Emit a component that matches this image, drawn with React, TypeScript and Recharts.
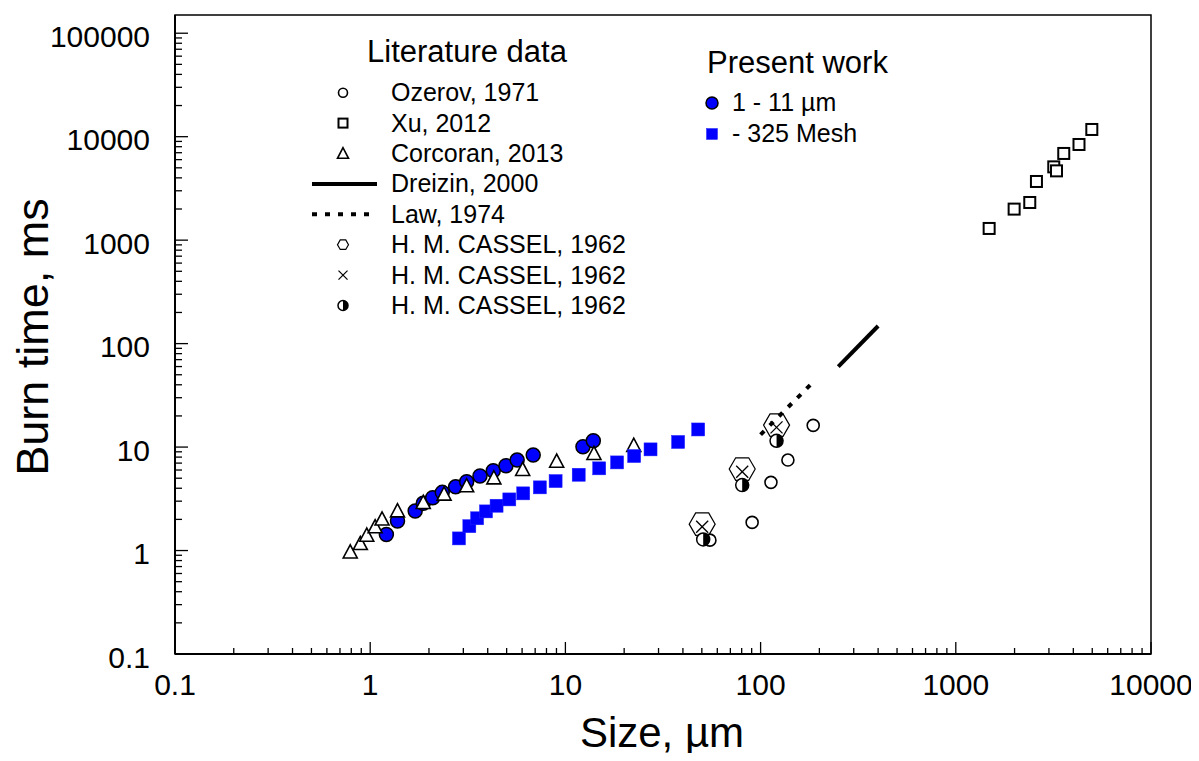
import React from "react";
import {
  ScatterChart,
  Scatter,
  XAxis,
  YAxis,
  ReferenceArea,
} from "recharts";

// size (um), burn time (ms)
const ozerov = [[55, 1.26], [90.5, 1.87], [113, 4.56], [138, 7.49], [186, 16.2]];
const xu = [[1482, 1297], [1990, 1995], [2393, 2312], [2589, 3690], [3176, 5108], [3280, 4674], [3573, 6885], [4277, 8406], [4975, 11740]];
const corcoran = [[0.79, 0.97], [0.89, 1.17], [0.96, 1.41], [1.06, 1.7], [1.15, 2.02], [1.38, 2.42], [1.87, 2.92], [2.39, 3.52], [3.12, 4.23], [4.3, 5.05], [6.04, 6.09], [9.02, 7.32], [14.0, 8.69], [22.4, 10.4]];
const dreizin = [[250, 60], [400, 148]];
const law = [[100, 13.2], [180, 40]];
const casselHex = [[50.2, 1.8], [80.5, 6.13], [120.7, 16.3]];
const casselCross = [[50.2, 1.7], [80.5, 5.77], [120.7, 15.5]];
const casselHalf = [[50.8, 1.28], [80.5, 4.29], [120.7, 11.5]];
const fine = [[1.21, 1.43], [1.38, 1.93], [1.7, 2.41], [1.87, 2.86], [2.09, 3.24], [2.34, 3.65], [2.74, 4.13], [3.12, 4.62], [3.65, 5.25], [4.27, 5.9], [4.96, 6.6], [5.66, 7.49], [6.84, 8.37], [12.3, 10.07], [13.9, 11.5]];
const mesh = [[2.85, 1.31], [3.22, 1.72], [3.53, 2.05], [3.92, 2.39], [4.44, 2.71], [5.16, 3.12], [6.08, 3.57], [7.4, 4.08], [8.91, 4.69], [11.7, 5.4], [14.9, 6.23], [18.4, 7.11], [22.5, 8.19], [27.3, 9.5], [37.8, 11.2], [47.9, 14.8]];

const xDecades = [0.1, 1, 10, 100, 1000, 10000];
const yDecades = [0.1, 1, 10, 100, 1000, 10000, 100000];

const literature = ["Ozerov, 1971", "Xu, 2012", "Corcoran, 2013", "Dreizin, 2000", "Law, 1974", "H. M. CASSEL, 1962", "H. M. CASSEL, 1962", "H. M. CASSEL, 1962"];
const present = ["1 - 11 µm", "- 325 Mesh"];

const FONT = "'Liberation Sans', Arial, sans-serif";
const BLUE = "#0000ff";

const toPts = (arr: number[][]) => arr.map(([x, y]) => ({ x, y }));

// major decade ticks plus 2..9 minor ticks
const withMinor = (decades: number[]) => {
  const out: number[] = [];
  decades.forEach((d, i) => {
    out.push(d);
    if (i < decades.length - 1) for (let k = 2; k <= 9; k++) out.push(+(d * k).toPrecision(3));
  });
  return out;
};
const xTicks = withMinor(xDecades);
const yTicks = withMinor(yDecades);
const isMajor = (v: number) => Math.abs(Math.log10(v) - Math.round(Math.log10(v))) < 1e-6;

const XTick = (props: any) => {
  const { x, y, payload } = props;
  const major = isMajor(payload.value);
  return (
    <g>
      <line x1={x} x2={x} y1={y} y2={y - (major ? 12 : 6)} stroke="#000" strokeWidth={1.3} />
      {major && (
        <text x={x} y={y + 41} textAnchor="middle" fontSize={30} fontFamily={FONT} fill="#000">
          {String(payload.value)}
        </text>
      )}
    </g>
  );
};

const YTick = (props: any) => {
  const { x, y, payload } = props;
  const major = isMajor(payload.value);
  return (
    <g>
      <line x1={x} x2={x + (major ? 13 : 7)} y1={y} y2={y} stroke="#000" strokeWidth={1.3} />
      {major && (
        <text x={x - 25} y={y + 13.5} textAnchor="end" fontSize={30} fontFamily={FONT} fill="#000">
          {String(payload.value)}
        </text>
      )}
    </g>
  );
};

// marker drawing helpers
const openCircle = (cx: number, cy: number, r: number) => (
  <circle cx={cx} cy={cy} r={r} fill="#fff" stroke="#000" strokeWidth={1.6} />
);
const openSquare = (cx: number, cy: number, s: number) => (
  <rect x={cx - s / 2} y={cy - s / 2} width={s} height={s} fill="#fff" stroke="#000" strokeWidth={2} />
);
const openTriangle = (cx: number, cy: number, s: number) => {
  const h = s * 0.87;
  return (
    <polygon
      points={`${cx},${cy - h / 2 - 1} ${cx - s / 2},${cy + h / 2} ${cx + s / 2},${cy + h / 2}`}
      fill="#fff"
      stroke="#000"
      strokeWidth={1.6}
    />
  );
};
const hexagon = (cx: number, cy: number, r: number) => {
  const pts = [0, 60, 120, 180, 240, 300]
    .map((a) => `${cx + r * Math.cos((a * Math.PI) / 180)},${cy + r * Math.sin((a * Math.PI) / 180)}`)
    .join(" ");
  return <polygon points={pts} fill="none" stroke="#000" strokeWidth={1.2} />;
};
const cross = (cx: number, cy: number, s: number) => (
  <g stroke="#000" strokeWidth={1.3}>
    <line x1={cx - s / 2} y1={cy - s / 2} x2={cx + s / 2} y2={cy + s / 2} />
    <line x1={cx - s / 2} y1={cy + s / 2} x2={cx + s / 2} y2={cy - s / 2} />
  </g>
);
const halfCircle = (cx: number, cy: number, r: number) => (
  <g>
    <circle cx={cx} cy={cy} r={r} fill="#fff" stroke="#000" strokeWidth={1.5} />
    <path d={`M${cx},${cy - r} A${r},${r} 0 0 1 ${cx},${cy + r} Z`} fill="#000" />
  </g>
);
const blueCircle = (cx: number, cy: number, r: number) => (
  <circle cx={cx} cy={cy} r={r} fill={BLUE} stroke="#000" strokeWidth={1.5} />
);
const blueSquare = (cx: number, cy: number, s: number) => (
  <rect x={cx - s / 2} y={cy - s / 2} width={s} height={s} fill={BLUE} stroke="#2020ff" strokeWidth={0.5} />
);

const shapeOf = (fn: (cx: number, cy: number, s: number) => React.ReactElement, s: number) =>
  (p: any) => fn(p.cx, p.cy, s);

const W = 1191;
const H = 745;

const App = () => {
  const legendY0 = 84.7;
  const step = 30.4;
  const symX = 335;
  const textX = 383;
  const litSymbols = [
    (y: number) => openCircle(symX, y, 4.5),
    (y: number) => openSquare(symX, y, 9),
    (y: number) => openTriangle(symX, y, 11),
    (y: number) => <line x1={304} x2={369} y1={y} y2={y} stroke="#000" strokeWidth={4} />,
    (y: number) => <line x1={304} x2={369} y1={y} y2={y} stroke="#000" strokeWidth={4} strokeDasharray="5 8" />,
    (y: number) => hexagon(symX, y, 5.5),
    (y: number) => cross(symX, y, 9),
    (y: number) => halfCircle(symX, y, 5),
  ];

  return (
    <div style={{ position: "relative", width: W, height: H }}>
      <ScatterChart width={W} height={H} margin={{ top: 7, right: 48, bottom: 0, left: 0 }}>
        <XAxis
          dataKey="x"
          type="number"
          scale="log"
          domain={[0.1, 10000]}
          ticks={xTicks}
          interval={0}
          height={99}
          tickSize={0}
          tickMargin={0}
          tickLine={false}
          tick={<XTick />}
          axisLine={{ stroke: "#000", strokeWidth: 2 }}
          allowDataOverflow
        />
        <YAxis
          dataKey="y"
          type="number"
          scale="log"
          domain={[0.1, 150000]}
          ticks={yTicks}
          interval={0}
          width={167}
          tickSize={0}
          tickMargin={0}
          tickLine={false}
          tick={<YTick />}
          axisLine={{ stroke: "#000", strokeWidth: 2 }}
          allowDataOverflow
        />
        <ReferenceArea x1={0.1} x2={10000} y1={0.1} y2={150000} fill="none" stroke="#000" strokeWidth={1.5} />
        <Scatter data={toPts(dreizin)} line={{ stroke: "#000", strokeWidth: 4 }} shape={() => <g />} isAnimationActive={false} />
        <Scatter data={toPts(law)} line={{ stroke: "#000", strokeWidth: 4, strokeDasharray: "5 8" }} shape={() => <g />} isAnimationActive={false} />
        <Scatter data={toPts(ozerov)} shape={shapeOf(openCircle, 6)} isAnimationActive={false} />
        <Scatter data={toPts(xu)} shape={shapeOf(openSquare, 11)} isAnimationActive={false} />
        <Scatter data={toPts(fine)} shape={shapeOf(blueCircle, 7)} isAnimationActive={false} />
        <Scatter data={toPts(corcoran)} shape={shapeOf(openTriangle, 14)} isAnimationActive={false} />
        <Scatter data={toPts(mesh)} shape={shapeOf(blueSquare, 13)} isAnimationActive={false} />
        <Scatter data={toPts(casselHex)} shape={shapeOf(hexagon, 13)} isAnimationActive={false} />
        <Scatter data={toPts(casselCross)} shape={shapeOf(cross, 12)} isAnimationActive={false} />
        <Scatter data={toPts(casselHalf)} shape={shapeOf(halfCircle, 6.5)} isAnimationActive={false} />
      </ScatterChart>

      <svg
        width={W}
        height={H}
        style={{ position: "absolute", left: 0, top: 0, pointerEvents: "none", overflow: "visible" }}
        fontFamily={FONT}
      >
        <text x={654} y={739} textAnchor="middle" fontSize={42} fill="#000">
          Size, µm
        </text>
        <text x={40} y={329} textAnchor="middle" fontSize={45} fill="#000" transform="rotate(-90 40 329)">
          Burn time, ms
        </text>

        <text x={359} y={54} fontSize={31} fill="#000">Literature data</text>
        {literature.map((name, i) => {
          const y = legendY0 + i * step;
          return (
            <g key={i}>
              {litSymbols[i](y)}
              <text x={textX} y={y + 8.5} fontSize={25} fill="#000">{name}</text>
            </g>
          );
        })}

        <text x={699} y={65} fontSize={31} fill="#000">Present work</text>
        {blueCircle(704, 95, 6)}
        <text x={724} y={103} fontSize={25} fill="#000">{present[0]}</text>
        {blueSquare(704, 126, 11)}
        <text x={724} y={134} fontSize={25} fill="#000">{present[1]}</text>
      </svg>
    </div>
  );
};

export default App;
